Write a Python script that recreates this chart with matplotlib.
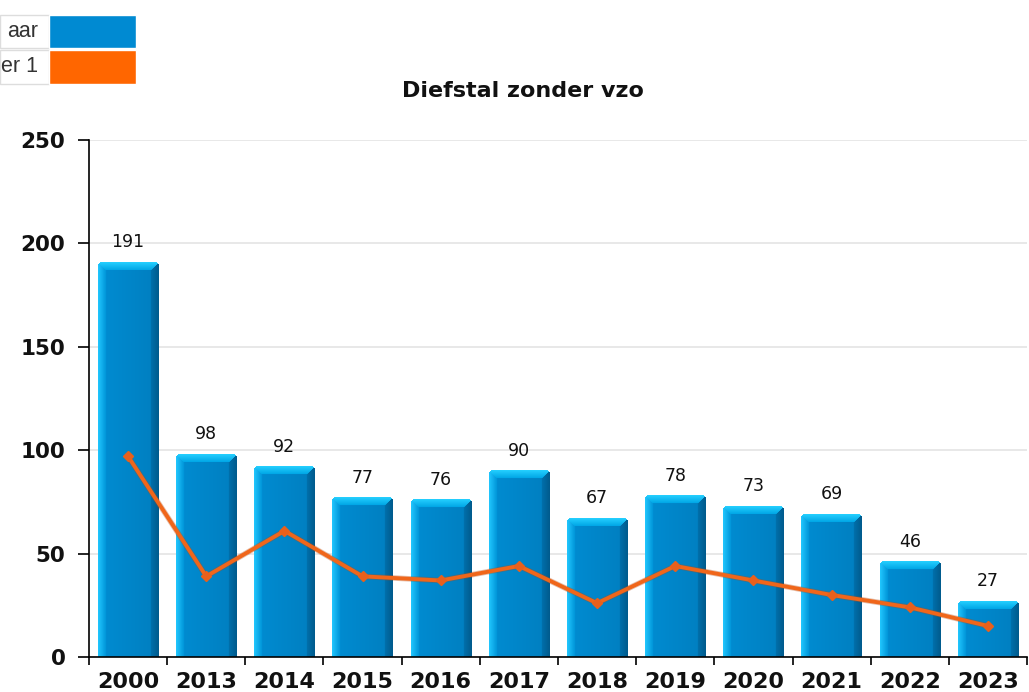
import numpy as np
import matplotlib
matplotlib.use("Agg")
import matplotlib.pyplot as plt
from matplotlib.patches import Rectangle
from matplotlib.colors import to_rgb

# data
years = ["2000", "2013", "2014", "2015", "2016", "2017", "2018", "2019", "2020", "2021", "2022", "2023"]
per_jaar = [191, 98, 92, 77, 76, 90, 67, 78, 73, 69, 46, 27]
lijn = [97, 39, 61, 39, 37, 44, 26, 44, 37, 30, 24, 15]
legend_labels = ["aar", "er 1"]

BLUE = "#008ad2"
ORANGE = "#ff6600"

W, H = 1029, 692
fig = plt.figure(figsize=(W / 100, H / 100), dpi=100)
ax = fig.add_axes([89 / W, 1 - 657 / H, 938 / W, 517 / H])

x = np.arange(len(years))
bw = 0.77
px_per_unit = 517 / 250
bar_px = int(round(bw * 938 / 12))


def lerp(a, b, t):
    return np.array(to_rgb(a)) + (np.array(to_rgb(b)) - np.array(to_rgb(a))) * t


def bar_image(hpx, wpx, bev=8, rad=4):
    # beveled "3d" bar, built pixel by pixel
    img = np.zeros((hpx, wpx, 4))
    for r in range(hpx):
        for c in range(wpx):
            u = c + 0.5
            d = r + 0.5
            rr = wpx - u
            if d < bev and d <= u and d <= rr:
                col = lerp("#26d0ff", "#00a6e6", d / bev)
            elif u < bev and u < rr:
                col = lerp("#22c8ff", "#0094d8", u / bev)
            elif rr < bev:
                col = lerp("#0070ac", "#005a8c", 1 - rr / bev)
            else:
                col = lerp("#008bd0", "#0080c2", (u - bev) / max(wpx - 2 * bev, 1))
            a = 1.0
            # rounded top corners
            if d < rad:
                if c < rad and (u - rad) ** 2 + (d - rad) ** 2 > rad ** 2:
                    a = 0.0
                if c >= wpx - rad and (u - (wpx - rad)) ** 2 + (d - rad) ** 2 > rad ** 2:
                    a = 0.0
            img[r, c, :3] = col
            img[r, c, 3] = a
    return img


for xi, v in zip(x, per_jaar):
    hpx = int(round(v * px_per_unit))
    img = bar_image(hpx, bar_px)
    ax.imshow(img, extent=(xi - bw / 2, xi + bw / 2, 0, v), aspect="auto",
              interpolation="bilinear", zorder=2)
    ax.annotate(str(v), (xi, v), xytext=(0, 8), textcoords="offset points",
                ha="center", va="bottom", fontsize=12.5, color="#111111")

ax.plot(x, lijn, color="#b5480f", lw=4, zorder=4, alpha=0.35)
ax.plot(x, lijn, color="#f0661a", lw=2.8, zorder=4)
ax.plot(x, lijn, "D", color="#e8601c", ms=5.5, zorder=5)

ax.set_xlim(-0.5, len(years) - 0.5)
ax.set_ylim(0, 250)
ax.set_yticks([0, 50, 100, 150, 200, 250])
ax.grid(axis="y", color="#e4e4e4", lw=1.2, zorder=0)
ax.set_axisbelow(True)

ax.set_xticks(np.arange(-0.5, len(years) - 0.4, 1))
ax.set_xticklabels([])
ax.set_xticks(x, minor=True)
ax.set_xticklabels(years, minor=True)
ax.tick_params(axis="x", which="major", length=6, width=1.2, direction="out")
ax.tick_params(axis="x", which="minor", length=0, pad=11, labelsize=16)
ax.tick_params(axis="y", length=8, width=1.2, pad=9, labelsize=15.5)
for lab in ax.get_xticklabels(minor=True) + ax.get_yticklabels():
    lab.set_fontweight("bold")
    lab.set_color("#111111")

for s in ["top", "right"]:
    ax.spines[s].set_visible(False)
ax.spines["left"].set_linewidth(1.2)
ax.spines["bottom"].set_linewidth(1.2)

fig.text(523 / W, 1 - 91 / H, "Diefstal zonder vzo", ha="center", va="center",
         fontsize=16, fontweight="bold", color="#111111")

# legend table in the top left corner (partly cut off)
rows = [(15, 48, BLUE), (50, 84, ORANGE)]
for (y0, y1, c), lab in zip(rows, legend_labels):
    fig.patches.append(Rectangle((0, 1 - y1 / H), 49 / W, (y1 - y0) / H, transform=fig.transFigure,
                                 facecolor="white", edgecolor="#dddddd", lw=1))
    fig.patches.append(Rectangle((49 / W, 1 - y1 / H), 87 / W, (y1 - y0) / H,
                                 transform=fig.transFigure, facecolor=c, edgecolor="white", lw=1))
    fig.text(38 / W, 1 - (y0 + y1) / 2 / H, lab, ha="right", va="center", fontsize=15.5,
             family="Liberation Sans", color="#333333")

fig.savefig("out.png", dpi=100)
